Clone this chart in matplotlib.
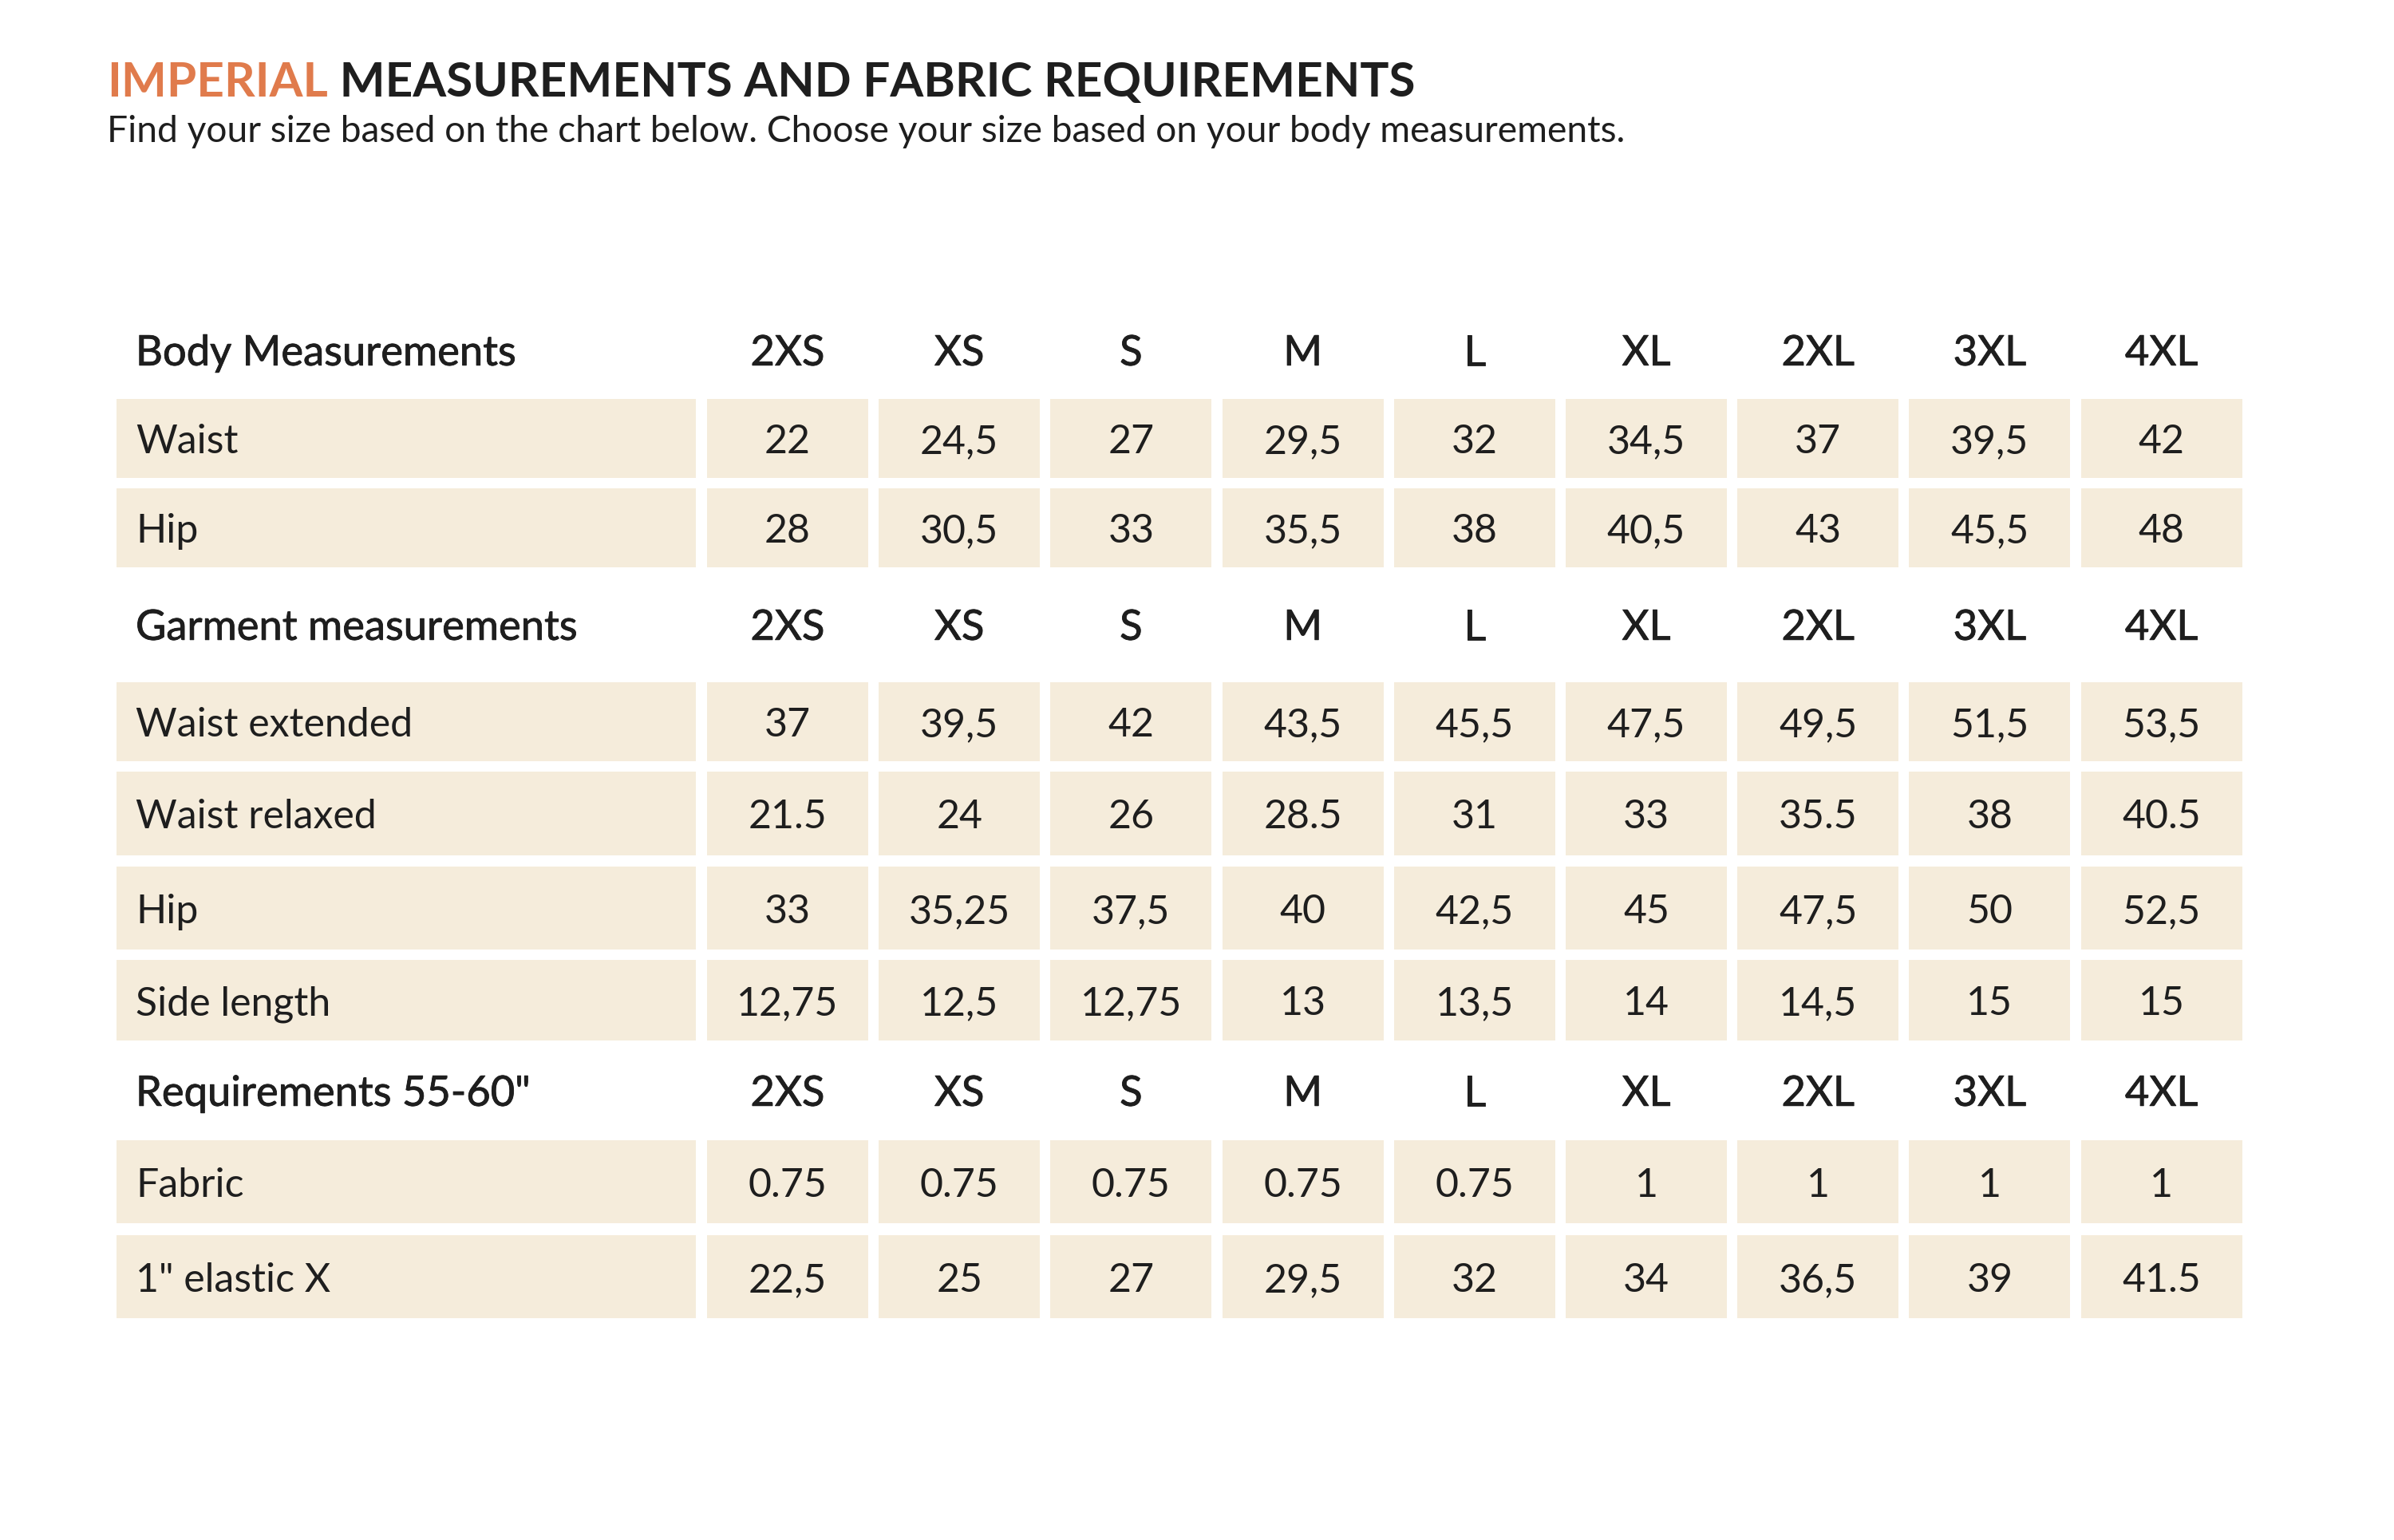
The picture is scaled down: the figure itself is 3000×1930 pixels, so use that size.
import matplotlib
matplotlib.use("Agg")
import matplotlib.pyplot as plt
import matplotlib.patheffects as pe

# ---------------- data ----------------
title_accent = "IMPERIAL"
title_rest = " MEASUREMENTS AND FABRIC REQUIREMENTS"
subtitle = "Find your size based on the chart below. Choose your size based on your body measurements."

sizes = ["2XS", "XS", "S", "M", "L", "XL", "2XL", "3XL", "4XL"]

body_header = "Body Measurements"
body_labels = ["Waist", "Hip"]
body_waist = ["22", "24,5", "27", "29,5", "32", "34,5", "37", "39,5", "42"]
body_hip = ["28", "30,5", "33", "35,5", "38", "40,5", "43", "45,5", "48"]

garment_header = "Garment measurements"
garment_labels = ["Waist extended", "Waist relaxed", "Hip", "Side length"]
garment_waist_ext = ["37", "39,5", "42", "43,5", "45,5", "47,5", "49,5", "51,5", "53,5"]
garment_waist_rel = ["21.5", "24", "26", "28.5", "31", "33", "35.5", "38", "40.5"]
garment_hip = ["33", "35,25", "37,5", "40", "42,5", "45", "47,5", "50", "52,5"]
garment_side = ["12,75", "12,5", "12,75", "13", "13,5", "14", "14,5", "15", "15"]

req_header = 'Requirements 55-60"'
req_labels = ["Fabric", '1" elastic X']
req_fabric = ["0.75", "0.75", "0.75", "0.75", "0.75", "1", "1", "1", "1"]
req_elastic = ["22,5", "25", "27", "29,5", "32", "34", "36,5", "39", "41.5"]

sections = [
    (body_header, body_labels, [body_waist, body_hip]),
    (garment_header, garment_labels,
     [garment_waist_ext, garment_waist_rel, garment_hip, garment_side]),
    (req_header, req_labels, [req_fabric, req_elastic]),
]

# ---------------- layout (pixel units) ----------------
W, H = 3000, 1931
FILL = "#F5ECDB"
TXT = "#1E1E1E"
ORANGE = "#E07B4C"

label_left, label_right = 146, 872
col_left0, col_pitch, col_w = 886, 215.2, 202
text_pad = 24

header_centers = [440, 784, 1368]
row_tops = [[501, 613], [856, 968, 1087, 1204], [1430, 1549]]
row_heights = [[99, 99], [99, 105, 104, 101], [104, 104]]

FONT = ["Lato", "DejaVu Sans"]
fs_body = 36
fs_head = 37.8
cap = 0.7165  # cap height fraction of em
medium = [pe.withStroke(linewidth=0.6, foreground=TXT)]


def px(pt):
    return pt * 100 / 72.0


fig = plt.figure(figsize=(W / 100, H / 100), dpi=100)
fig.patch.set_facecolor("white")
ax = fig.add_axes([0, 0, 1, 1])
ax.set_xlim(0, W)
ax.set_ylim(H, 0)
ax.axis("off")

# title
t1 = ax.text(134, 121, title_accent, fontsize=43.4, fontweight="bold",
             color=ORANGE, family=FONT, va="baseline", ha="left")
ax.annotate(title_rest, xy=(1, 0), xycoords=t1, fontsize=43.4,
            fontweight="bold", color=TXT, family=FONT, va="bottom", ha="left")
ax.text(134, 178, subtitle, fontsize=33.2, color=TXT, family=FONT,
        va="baseline", ha="left")

col_centers = [col_left0 + i * col_pitch + col_w / 2 for i in range(len(sizes))]
col_lefts = [col_left0 + i * col_pitch for i in range(len(sizes))]

for (header, labels, rows), hc, tops, hts in zip(sections, header_centers,
                                                 row_tops, row_heights):
    base = hc + px(fs_head) * cap / 2
    ax.text(label_left + text_pad, base, header, fontsize=fs_head,
            color=TXT, family=FONT, va="baseline", ha="left",
            path_effects=medium)
    for cx, s in zip(col_centers, sizes):
        ax.text(cx, base, s, fontsize=fs_head, color=TXT,
                family=FONT, va="baseline", ha="center", path_effects=medium)
    for lab, vals, top, h in zip(labels, rows, tops, hts):
        ax.bar([label_left], [h], width=label_right - label_left, bottom=top,
               align="edge", color=FILL, linewidth=0)
        ax.bar(col_lefts, [h] * len(col_lefts), width=col_w, bottom=top,
               align="edge", color=FILL, linewidth=0)
        b = top + h / 2 + px(fs_body) * cap / 2
        ax.text(label_left + text_pad, b, lab, fontsize=fs_body, color=TXT,
                family=FONT, va="baseline", ha="left")
        for cx, v in zip(col_centers, vals):
            ax.text(cx, b, v, fontsize=fs_body, color=TXT, family=FONT,
                    va="baseline", ha="center")

fig.savefig("out.png", dpi=100, facecolor="white")
